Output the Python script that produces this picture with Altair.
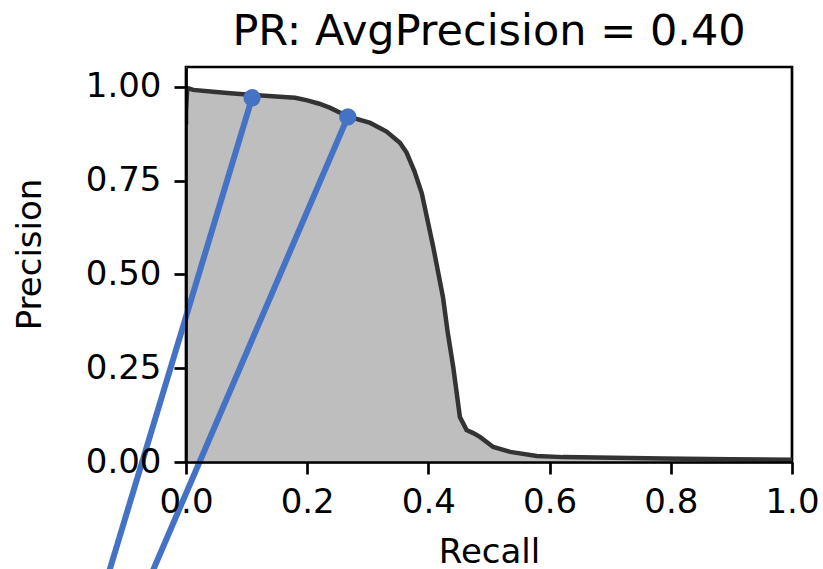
import altair as alt
import pandas as pd

# PR curve
recall = [0.0, 0.0, 0.002, 0.012, 0.045, 0.073, 0.106, 0.155, 0.18, 0.2, 0.22, 0.238,
          0.267, 0.304, 0.331, 0.353, 0.364, 0.377, 0.389, 0.408, 0.424, 0.432, 0.441,
          0.452, 0.463, 0.474, 0.485, 0.507, 0.535, 0.579, 0.622, 0.705, 0.787,
          0.898, 1.0]
precision = [0.90, 0.933, 0.997, 0.992, 0.987, 0.983, 0.979, 0.974, 0.971, 0.964, 0.955,
             0.944, 0.921, 0.904, 0.881, 0.851, 0.825, 0.775, 0.717, 0.573, 0.44, 0.344,
             0.253, 0.12, 0.085, 0.077, 0.067, 0.04, 0.027, 0.016, 0.013, 0.011, 0.009,
             0.007, 0.006]

# highlighted operating points and the leader lines leaving them
pt_recall = [0.109, 0.267]
pt_precision = [0.971, 0.92]
end_recall = [-0.147, -0.084]
end_precision = [-0.4, -0.4]

x_ticks = [0.0, 0.2, 0.4, 0.6, 0.8, 1.0]
y_ticks = [0.0, 0.25, 0.5, 0.75, 1.0]

curve = pd.DataFrame({"recall": recall, "precision": precision})
pts = pd.DataFrame({"recall": pt_recall, "precision": pt_precision,
                    "r2": end_recall, "p2": end_precision})

FONT = "DejaVu Sans"
BLUE = "#4472c4"

xs = alt.Scale(domain=[0, 1], nice=False, zero=False)
ys = alt.Scale(domain=[0, 1.053], nice=False, zero=False)

xax = alt.Axis(values=x_ticks, format=".1f", title="Recall", titleY=100,
               titleBaseline="alphabetic", labelPadding=11, zindex=1)
yax = alt.Axis(values=y_ticks, format=".2f", title="Precision", titleX=-146,
               titleY=187, titleAngle=-90, titleBaseline="alphabetic",
               labelPadding=13, zindex=1)

base = alt.Chart(curve)

area = base.mark_area(color="#bebebe", clip=True).encode(
    x=alt.X("recall:Q", scale=xs, axis=xax),
    y=alt.Y("precision:Q", scale=ys, axis=yax),
)
line = base.mark_line(color="#333333", strokeWidth=4.5, clip=True).encode(
    x=alt.X("recall:Q", scale=xs),
    y=alt.Y("precision:Q", scale=ys),
)
rules = alt.Chart(pts).mark_rule(color=BLUE, strokeWidth=6, clip=False).encode(
    x=alt.X("recall:Q", scale=xs),
    y=alt.Y("precision:Q", scale=ys),
    x2="r2:Q",
    y2="p2:Q",
)
points = alt.Chart(pts).mark_point(filled=True, color=BLUE, opacity=1, size=300,
                                   clip=False).encode(
    x=alt.X("recall:Q", scale=xs),
    y=alt.Y("precision:Q", scale=ys),
)

chart = alt.layer(area, line, rules, points).properties(
    width=606,
    height=395,
    background="white",
    title=alt.TitleParams("PR: AvgPrecision = 0.40", fontSize=43, font=FONT,
                          fontWeight="normal", color="black",
                          baseline="alphabetic", offset=21, dy=42, frame="group",
                          anchor="middle"),
    autosize=alt.AutoSizeParams(type="none"),
    padding={"left": 186, "top": 67, "right": 31, "bottom": 107},
).configure_view(
    stroke="black", strokeWidth=2.7
).configure_axis(
    grid=False, domainColor="black", domainWidth=2.7, tickColor="black",
    tickWidth=2.7, tickSize=12, labelFont=FONT, labelFontSize=34,
    labelColor="black", labelFlush=False, titleFont=FONT, titleFontSize=34,
    titleFontWeight="normal", titleColor="black",
)

chart.save("out.html", embed_options={"renderer": "svg", "actions": False})
